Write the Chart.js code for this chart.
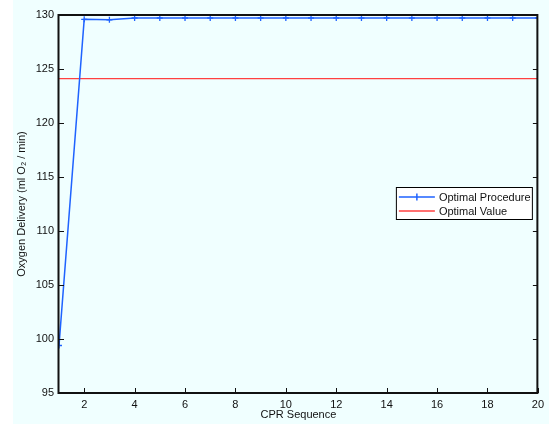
<!DOCTYPE html>
<html>
<head>
<meta charset="utf-8">
<script src="https://cdn.jsdelivr.net/npm/chart.js@4"></script>
<style>
    html, body { margin: 0; padding: 0; background: #ffffff; }
    #wrap { width: 549px; height: 424px; }
</style>
</head>
<body>
<div id="wrap"><canvas id="chart" width="549" height="424"></canvas></div>
<script>
// Chart data
const SEQUENCE = [1, 2, 3, 4, 5, 6, 7, 8, 9, 10, 11, 12, 13, 14, 15, 16, 17, 18, 19, 20];
const PROCEDURE = [99.4, 129.6, 129.55, 129.72, 129.72, 129.72, 129.72, 129.72, 129.72, 129.72,
    129.72, 129.72, 129.72, 129.72, 129.72, 129.72, 129.72, 129.72, 129.72, 129.72];
const OPTIMAL = [124.1, 124.1, 124.1, 124.1, 124.1, 124.1, 124.1, 124.1, 124.1, 124.1,
    124.1, 124.1, 124.1, 124.1, 124.1, 124.1, 124.1, 124.1, 124.1, 124.1];
const X_TICKS = [2, 4, 6, 8, 10, 12, 14, 16, 18, 20];
const Y_TICKS = [95, 100, 105, 110, 115, 120, 125, 130];
const SERIES_NAMES = ['Optimal Procedure', 'Optimal Value'];

const COLORS = {
    blue: '#1f63ff',
    red: '#ff4040',
    bg: '#f0ffff',
    axis: '#111111',
    text: '#111111'
};
const SERIES_COLORS = [COLORS.blue, COLORS.red];

Chart.defaults.font.family = '"Liberation Sans", Arial, Helvetica, sans-serif';
Chart.defaults.font.size = 11;
Chart.defaults.color = COLORS.text;

const background = {
    id: 'background',
    beforeDraw(chart) {
        const ctx = chart.ctx;
        ctx.save();
        ctx.fillStyle = COLORS.bg;
        ctx.fillRect(13, 0, chart.width - 13, chart.height);
        ctx.restore();
    }
};

// box around the axes plus inward ticks
const axesBox = {
    id: 'axesBox',
    afterDatasetsDraw(chart) {
        const { ctx, chartArea: a, scales } = chart;
        const len = 5;
        ctx.save();
        ctx.strokeStyle = COLORS.axis;
        ctx.lineWidth = 1;
        ctx.beginPath();
        scales.x.ticks.forEach((t) => {
            const px = Math.round(scales.x.getPixelForValue(t.value)) + 0.5;
            ctx.moveTo(px, a.bottom); ctx.lineTo(px, a.bottom - len);
        });
        scales.y.ticks.forEach((t) => {
            const py = Math.round(scales.y.getPixelForValue(t.value)) + 0.5;
            ctx.moveTo(a.left, py); ctx.lineTo(a.left + len, py);
            ctx.moveTo(a.right, py); ctx.lineTo(a.right - len, py);
        });
        ctx.stroke();
        ctx.lineWidth = 2;
        ctx.strokeRect(a.left - 0.5, a.top, a.right - a.left, a.bottom - a.top);
        ctx.restore();
    }
};

const boxLegend = {
    id: 'boxLegend',
    afterDraw(chart) {
        const { ctx, chartArea: a } = chart;
        const w = 136, h = 32;
        const x0 = a.right - 6 - w;
        const y0 = 187;
        ctx.save();
        ctx.fillStyle = '#ffffff';
        ctx.fillRect(x0, y0, w, h);
        ctx.strokeStyle = '#000000';
        ctx.lineWidth = 1;
        ctx.strokeRect(x0 + 0.5, y0 + 0.5, w, h);
        ctx.font = '11px "Liberation Sans", Arial, sans-serif';
        ctx.textBaseline = 'middle';
        SERIES_NAMES.forEach((name, i) => {
            const y = y0 + 10 + i * 14;
            ctx.strokeStyle = SERIES_COLORS[i];
            ctx.lineWidth = 1.5;
            ctx.beginPath();
            ctx.moveTo(x0 + 3, y);
            ctx.lineTo(x0 + 39, y);
            if (i === 0) {
                ctx.moveTo(x0 + 21, y - 3.5);
                ctx.lineTo(x0 + 21, y + 3.5);
            }
            ctx.stroke();
            ctx.fillStyle = COLORS.text;
            ctx.fillText(name, x0 + 43, y + 1);
        });
        ctx.restore();
    }
};

const ctx = document.getElementById('chart').getContext('2d');
new Chart(ctx, {
    type: 'line',
    data: {
        datasets: [{
            label: SERIES_NAMES[0],
            data: SEQUENCE.map((s, i) => ({ x: s, y: PROCEDURE[i] })),
            borderColor: COLORS.blue,
            borderWidth: 1.5,
            pointStyle: 'cross',
            pointRadius: 3,
            pointBorderWidth: 1.3,
            pointBorderColor: COLORS.blue,
            tension: 0,
            fill: false
        }, {
            label: SERIES_NAMES[1],
            data: SEQUENCE.map((s, i) => ({ x: s, y: OPTIMAL[i] })),
            borderColor: COLORS.red,
            borderWidth: 1.2,
            pointRadius: 0,
            tension: 0,
            fill: false
        }]
    },
    options: {
        responsive: false,
        devicePixelRatio: 1,
        animation: false,
        layout: { padding: { left: 13, top: 15, right: 9, bottom: 0 } },
        plugins: {
            legend: { display: false },
            tooltip: { enabled: false }
        },
        scales: {
            x: {
                type: 'linear',
                min: 1,
                max: 20,
                afterBuildTicks: (scale) => { scale.ticks = X_TICKS.map((v) => ({ value: v })); },
                afterFit: (scale) => { scale.height = 31; },
                grid: { display: false, drawTicks: false },
                border: { display: false },
                ticks: { padding: 5, maxRotation: 0, autoSkip: false, color: COLORS.text },
                title: {
                    display: true,
                    text: 'CPR Sequence',
                    color: COLORS.text,
                    padding: { top: 0, bottom: 2 }
                }
            },
            y: {
                min: 95,
                max: 130,
                afterBuildTicks: (scale) => { scale.ticks = Y_TICKS.map((v) => ({ value: v })); },
                afterFit: (scale) => { scale.width = 46; },
                grid: { display: false, drawTicks: false },
                border: { display: false },
                ticks: { padding: 5, color: COLORS.text },
                title: {
                    display: true,
                    text: 'Oxygen Delivery (ml O\u2082 / min)',
                    color: COLORS.text,
                    padding: { top: 2, bottom: 0 }
                }
            }
        }
    },
    plugins: [background, axesBox, boxLegend]
});
</script>
</body>
</html>
